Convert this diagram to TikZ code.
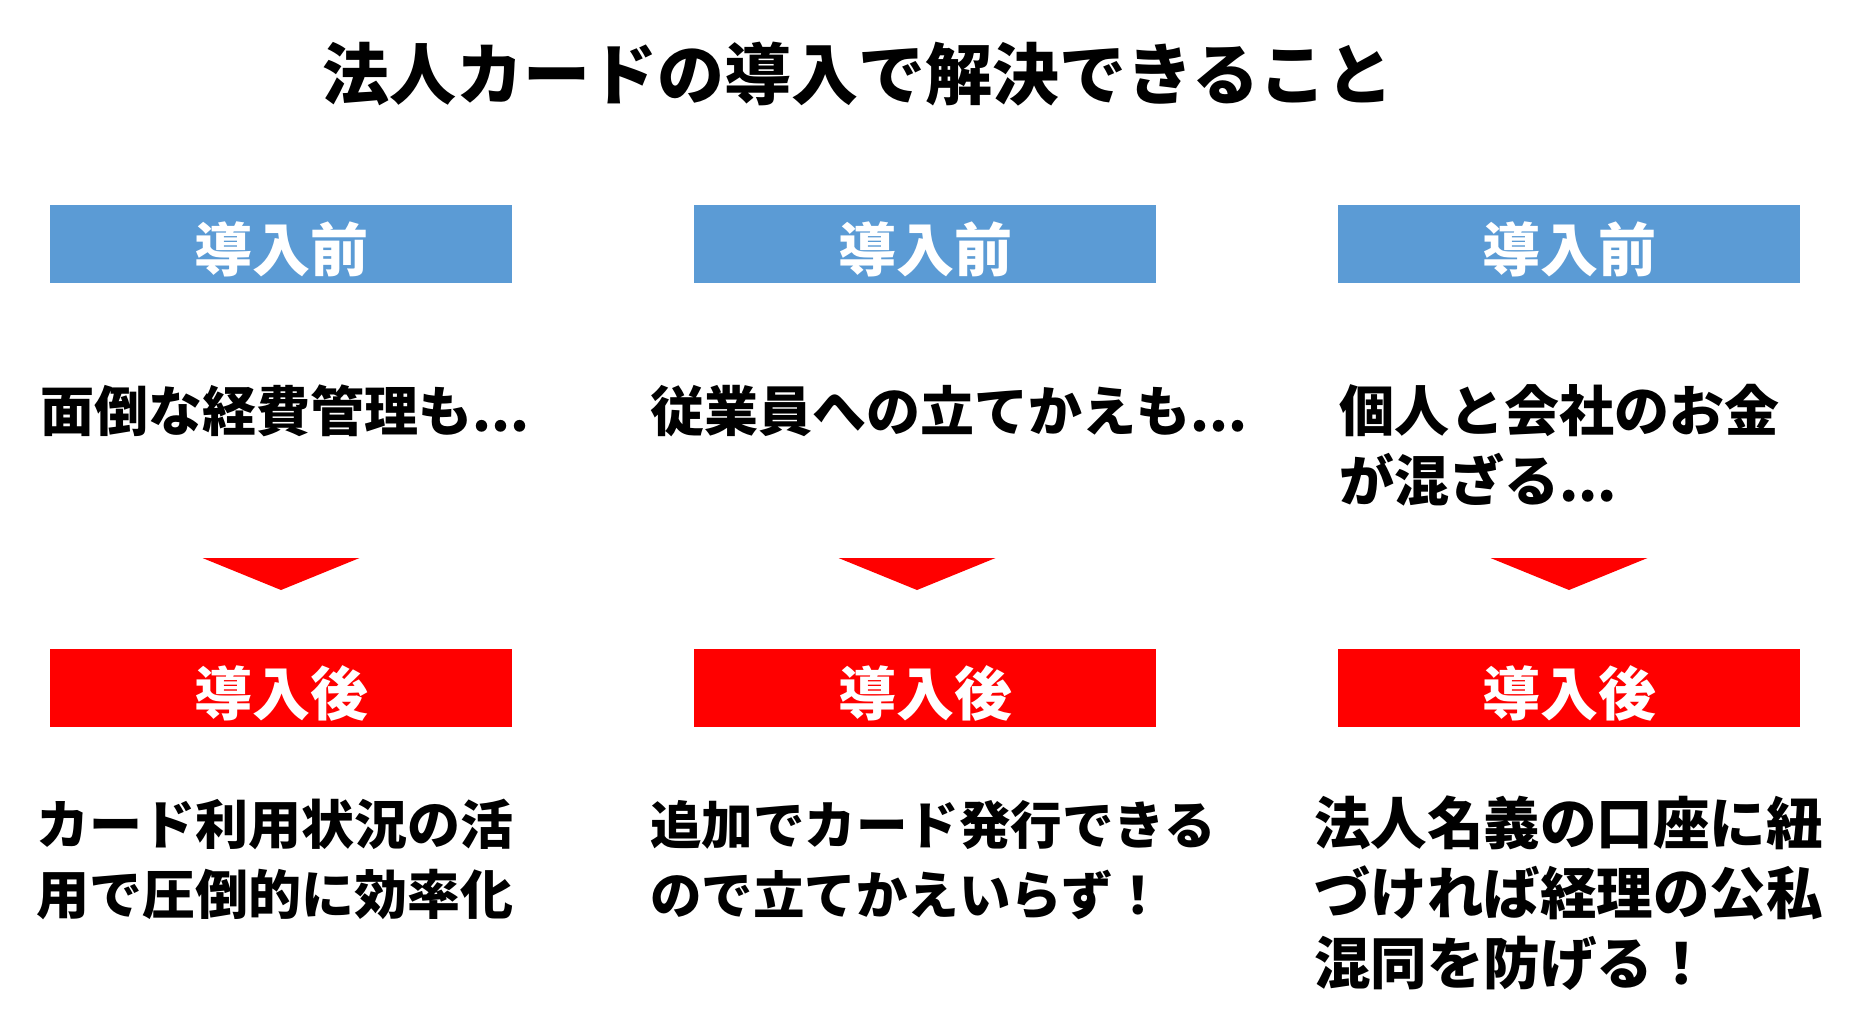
\documentclass[tikz,border=0pt]{standalone}
\usepackage{fontspec}
\newfontfamily\jpfont{Noto Sans CJK JP}
\usepackage{xcolor}
\usetikzlibrary{positioning}
\definecolor{headblue}{HTML}{5B9BD5}
\definecolor{headred}{HTML}{FF0000}

\begin{document}
\begin{tikzpicture}[x=1pt, y=-1pt,
  head/.style={minimum width=462pt, minimum height=78pt, inner sep=0pt, text=white,
               text depth=4pt, text height=60pt,
               font=\jpfont\bfseries\fontsize{58}{58}\selectfont},
  pre/.style={head, fill=headblue},
  post/.style={head, fill=headred},
  body/.style={anchor=base west, align=left, inner sep=0pt,
               font=\jpfont\bfseries\fontsize{#1}{70}\selectfont},
  tri/.style={fill=headred}]
  \useasboundingbox (0,0) rectangle (1863,1031);
  \node[anchor=base, inner sep=0pt, font=\jpfont\bfseries\fontsize{67}{67}\selectfont]
    (title) at (858,99) {法人カードの導入で解決できること};
  % before / after headers
  \foreach \i/\x/\t in {1/281/281, 2/925/917, 3/1569/1569} {
    \node[pre] (pre\i) at (\x,243.5) {導入前};
    \node[post, below=366pt of pre\i] (post\i) {導入後};
    \coordinate (tip\i) at (\t,590);
    \fill[tri] (tip\i) -- ++(-78.5,-32) -- ++(157,0) -- cycle;
  }
  % texts (base = last line)
  \node[body=54] (prob1) at (40,431) {面倒な経費管理も...};
  \node[body=54] (prob2) at (650,431) {従業員への立てかえも...};
  \node[body=55] (prob3) at (1339,501) {個人と会社のお金\\が混ざる...};
  \node[body=53] (gain1) at (36,914) {カード利用状況の活\\用で圧倒的に効率化};
  \node[body=51.5] (gain2) at (650,914) {追加でカード発行できる\\ので立てかえいらず！};
  \node[body=56.5] (gain3) at (1314,984) {法人名義の口座に紐\\づければ経理の公私\\混同を防げる！};
\end{tikzpicture}
\end{document}
